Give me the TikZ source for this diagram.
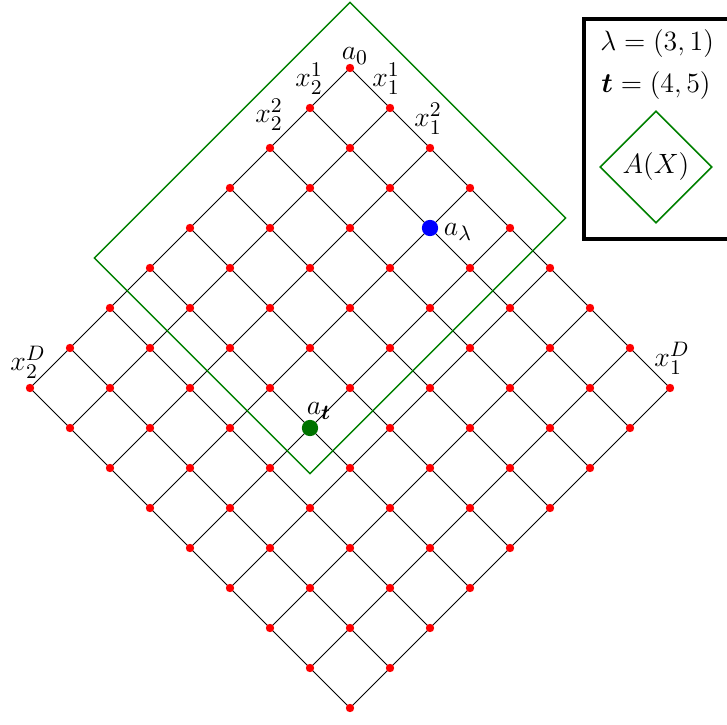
\documentclass[tikz,border=0pt]{standalone}
\usepackage{amsmath}
\usetikzlibrary{shapes.geometric}
\begin{document}
\begin{tikzpicture}[x=0.43pt,y=-0.43pt,
  gridline/.style={black,line width=0.4pt},
  region/.style={draw=green!50!black,line width=0.65pt},
  lbl/.style={inner sep=0pt,font=\fontsize{12.8}{15}\selectfont},
  boxtxt/.style={inner sep=0pt,font=\fontsize{12.6}{15}\selectfont,anchor=west}]
\useasboundingbox (0,0) rectangle (727,725);
\clip (0,0) rectangle (727,725);
% grid coordinates
\foreach \i in {0,...,8}{
  \foreach \j in {0,...,8}{
    \coordinate (p-\i-\j) at ({350+40*(\i-\j)},{68+40*(\i+\j)});
  }
}
% grid lines
\foreach \i in {0,...,8}{
  \foreach \j in {0,...,7}{
    \pgfmathtruncatemacro{\jj}{\j+1}
    \draw[gridline] (p-\i-\j) -- (p-\i-\jj);
    \draw[gridline] (p-\j-\i) -- (p-\jj-\i);
  }
}
% region A(X)
\coordinate (gt) at ({350+40*(0)},{68+40*(-1.64)});
\coordinate (gr) at ({350+40*(5.39)},{68+40*(3.75)});
\coordinate (gb) at ({350+40*(-1)},{68+40*(10.14)});
\coordinate (gl) at ({350+40*(-6.39)},{68+40*(4.75)});
\draw[region] (gt) -- (gr) -- (gb) -- (gl) -- cycle;
% dots
\foreach \i in {0,...,8}{
  \foreach \j in {0,...,8}{
    \fill[red] (p-\i-\j) circle (1.8pt);
  }
}
\fill[blue] (p-3-1) circle (3.5pt);
\fill[green!45!black] (p-4-5) circle (3.5pt);
% labels
\node[lbl] (la0) at (355,56) {$a_0$};
\node[lbl] (lx21) at (309,79) {$x_2^1$};
\node[lbl] (lx11) at (386,79) {$x_1^1$};
\node[lbl] (lx22) at (269,115) {$x_2^2$};
\node[lbl] (lx12) at (428,119) {$x_1^2$};
\node[lbl] (lx2D) at (28,362) {$x_2^D$};
\node[lbl] (lx1D) at (672,358) {$x_1^D$};
\node[lbl] (lal) at (458,232) {$a_\lambda$};
\node[lbl] (lat) at (319,411) {$a_{\boldsymbol{t}}$};
% legend box
\draw[line width=1.7pt] (584,19) rectangle (780,239);
\node[boxtxt] (bl) at (600,43.5) {$\lambda=(3,1)$};
\node[boxtxt] (bt) at (601,85.5) {$\boldsymbol{t}=(4,5)$};
\node[diamond,region,minimum width=48.2pt,minimum height=48.2pt,inner sep=0pt,font=\fontsize{12}{14}\selectfont] (bax) at (656,167) {$A(X)$};
\end{tikzpicture}
\end{document}
